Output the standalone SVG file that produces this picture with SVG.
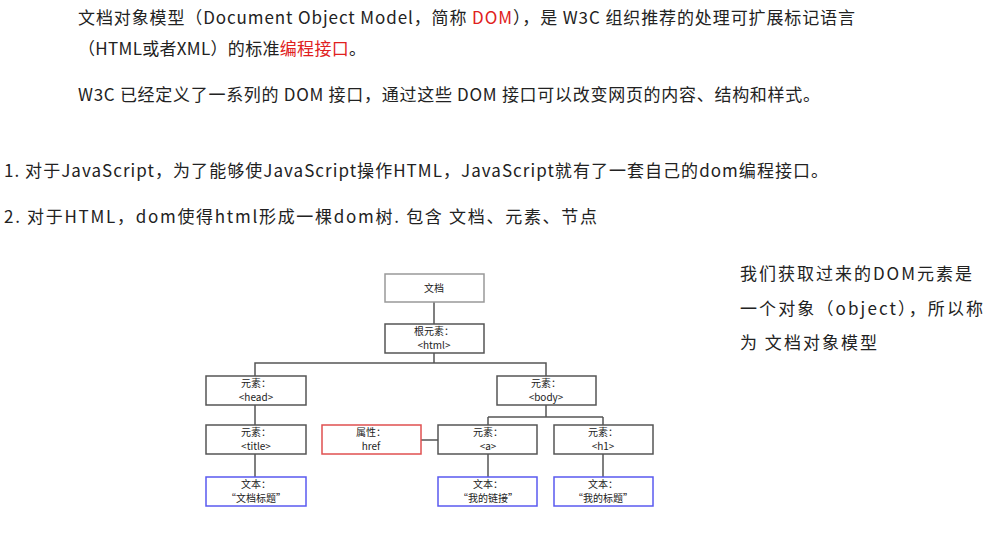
<svg xmlns="http://www.w3.org/2000/svg" width="995" height="537" viewBox="0 0 995 537">
<style>
.t{font-family:"Noto Sans CJK SC","Noto Sans",sans-serif;font-size:17px;fill:#222}
.s{font-family:"Noto Sans CJK SC","DejaVu Sans",sans-serif;font-size:10px;fill:#222;text-anchor:middle}
.b{fill:#fff;stroke:#555;stroke-width:1.5}
.r{fill:#fff;stroke:#e05050;stroke-width:1.5}
.u{fill:#fff;stroke:#5a5af0;stroke-width:1.5}
.g{fill:#fff;stroke:#999;stroke-width:1.5}
.red{fill:#e02020}
</style>
<rect width="995" height="537" fill="#fff"/>
<text class="t" x="78" y="24" textLength="777" lengthAdjust="spacing">文档对象模型（Document Object Model，简称 <tspan class="red">DOM</tspan>），是 W3C 组织推荐的处理可扩展标记语言</text>
<text class="t" x="78" y="55" textLength="288" lengthAdjust="spacing">（HTML或者XML）的标准<tspan class="red">编程接口</tspan>。</text>
<text class="t" x="78" y="101" textLength="742" lengthAdjust="spacing">W3C 已经定义了一系列的 DOM 接口，通过这些 DOM 接口可以改变网页的内容、结构和样式。</text>
<text class="t" x="4" y="177" textLength="824" lengthAdjust="spacing">1. 对于JavaScript，为了能够使JavaScript操作HTML，JavaScript就有了一套自己的dom编程接口。</text>
<text class="t" x="4" y="223" textLength="593" lengthAdjust="spacing">2. 对于HTML，dom使得html形成一棵dom树. 包含 文档、元素、节点</text>
<text class="t" x="740" y="280" textLength="232" lengthAdjust="spacing">我们获取过来的DOM元素是</text>
<text class="t" x="740" y="315" textLength="243" lengthAdjust="spacing">一个对象（object），所以称</text>
<text class="t" x="740" y="349" textLength="137" lengthAdjust="spacing">为 文档对象模型</text>
<g id="connectors" stroke="#555" stroke-width="1.5" fill="none">
<path d="M434 302V324M434 353V363M255 376V363H546V376M255 405V425M255 454V477M546 405V417M488 417H603M488 417V425M603 417V425M421 440H438M488 454V477M603 454V477"/>
</g>
<g id="doc"><rect class="g" x="385" y="274" width="99" height="28"/><text class="s" x="434" y="292">文档</text></g>
<g id="root"><rect class="b" x="385" y="324" width="99" height="29"/><text class="s" x="434" y="335">根元素：</text><text class="s" x="434" y="349">&lt;html&gt;</text></g>
<g id="head"><rect class="b" x="206" y="376" width="100" height="29"/><text class="s" x="256" y="387">元素：</text><text class="s" x="256" y="401">&lt;head&gt;</text></g>
<g id="body"><rect class="b" x="497" y="376" width="99" height="29"/><text class="s" x="546" y="387">元素：</text><text class="s" x="546" y="401">&lt;body&gt;</text></g>
<g id="title"><rect class="b" x="206" y="425" width="100" height="29"/><text class="s" x="256" y="436">元素：</text><text class="s" x="256" y="450">&lt;title&gt;</text></g>
<g id="href"><rect class="r" x="322" y="425" width="99" height="29"/><text class="s" x="371" y="436">属性：</text><text class="s" x="371" y="450">href</text></g>
<g id="a"><rect class="b" x="438" y="425" width="99" height="29"/><text class="s" x="488" y="436">元素：</text><text class="s" x="488" y="450">&lt;a&gt;</text></g>
<g id="h1"><rect class="b" x="554" y="425" width="99" height="29"/><text class="s" x="603" y="436">元素：</text><text class="s" x="603" y="450">&lt;h1&gt;</text></g>
<g id="t1"><rect class="u" x="206" y="477" width="100" height="29"/><text class="s" x="256" y="488">文本：</text><text class="s" x="256" y="502">“文档标题”</text></g>
<g id="t2"><rect class="u" x="438" y="477" width="99" height="29"/><text class="s" x="488" y="488">文本：</text><text class="s" x="488" y="502">“我的链接”</text></g>
<g id="t3"><rect class="u" x="554" y="477" width="99" height="29"/><text class="s" x="603" y="488">文本：</text><text class="s" x="603" y="502">“我的标题”</text></g>
</svg>
